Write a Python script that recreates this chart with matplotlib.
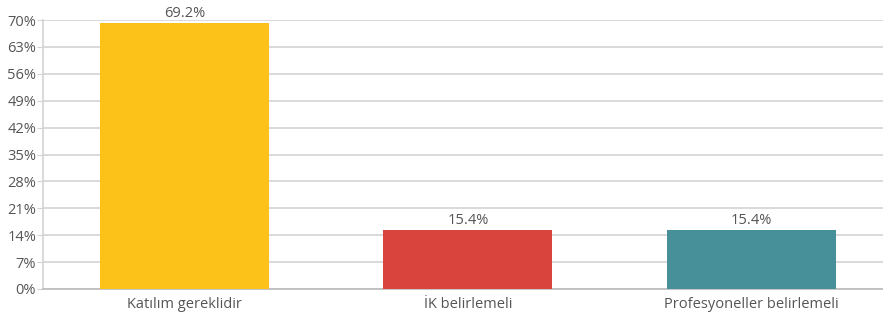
import matplotlib.pyplot as plt
import numpy as np

categories = ["Katılım gereklidir", "İK belirlemeli", "Profesyoneller belirlemeli"]
values = [69.2, 15.4, 15.4]
colors = ["#FCC21A", "#D9443C", "#47909A"]
yticks = [0, 7, 14, 21, 28, 35, 42, 49, 56, 63, 70]

plt.rcParams['font.family'] = ['Open Sans', 'DejaVu Sans']

fig = plt.figure(figsize=(8.83, 3.23), dpi=100)
ax = fig.add_axes([43 / 883, 34 / 323, 1 - 43 / 883, 269 / 323])

x = np.arange(len(categories))
bars = ax.bar(x, values, width=0.596, color=colors, zorder=3)

for b, v in zip(bars, values):
    ax.text(b.get_x() + b.get_width() / 2, v + 0.6, f"{v:.1f}%",
            ha="center", va="bottom", fontsize=10.5, color="#555555", clip_on=False)

ax.set_xlim(-0.499, 2.464)
ax.set_ylim(0, 70)
ax.set_yticks(yticks)
ax.set_yticklabels([f"{t}%" for t in yticks])
ax.set_xticks(x)
ax.set_xticklabels(categories)

ax.grid(axis="y", color="#D3D3D3", linewidth=1.2, zorder=0)
ax.tick_params(axis="y", length=4, color="#D3D3D3", labelsize=10.5, labelcolor="#555555", pad=1)
ax.tick_params(axis="x", length=0, labelsize=10.5, labelcolor="#555555", pad=6)

for s in ["top", "right"]:
    ax.spines[s].set_visible(False)
ax.spines["left"].set_color("#D3D3D3")
ax.spines["left"].set_linewidth(1.2)
ax.spines["bottom"].set_color("#BBBBBB")
ax.spines["bottom"].set_linewidth(1.2)

fig.savefig("out.png", dpi=100)
